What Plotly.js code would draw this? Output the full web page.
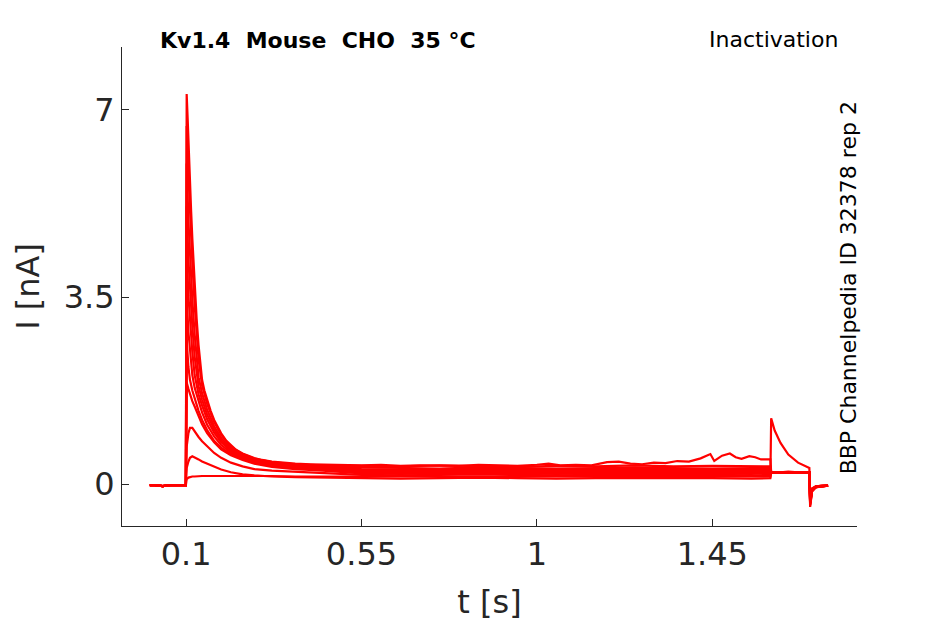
<!DOCTYPE html>
<html>
<head>
<meta charset="utf-8">
<script src="https://cdn.plot.ly/plotly-3.0.1.min.js"></script>
<style>
  body { margin: 0; background: #fff; }
  #plot { width: 945px; height: 624px; }
</style>
</head>
<body>
<div id="plot"></div>
<script>
// shared time base (s) for most sweeps
let t = [0.007, 0.02, 0.04, 0.06, 0.08, 0.0995, 0.1005, 0.1015, 0.106, 0.110, 0.116, 0.122, 0.132, 0.141, 0.154, 0.172, 0.19, 0.215, 0.245, 0.275, 0.32, 0.38, 0.45,
  0.55, 0.65, 0.75, 0.85, 0.95, 1.05, 1.15, 1.25, 1.35, 1.45, 1.55, 1.599,
  1.601, 1.61, 1.625, 1.645, 1.67, 1.699, 1.701, 1.706, 1.715, 1.73, 1.747];

// currents (nA), one array per sweep
let iA = [-0.02, -0.02, -0.04, -0.02, -0.02, -0.02, 3.3, 6.7, 5.8, 5.1, 4.15, 3.35, 2.33, 1.85, 1.5, 1.16, 0.92, 0.70, 0.56, 0.475, 0.41, 0.37, 0.35,
  0.34, 0.33, 0.35, 0.33, 0.32, 0.34, 0.33, 0.35, 0.33, 0.34, 0.33, 0.33,
  0.23, 0.22, 0.22, 0.23, 0.22, 0.22, -0.30, -0.10, -0.05, -0.04, -0.03];
let iB = [-0.02, -0.02, -0.04, -0.02, -0.02, -0.02, 3.0, 6.0, 4.93, 4.3, 3.45, 2.8, 2.0, 1.7, 1.39, 1.08, 0.86, 0.67, 0.54, 0.46, 0.40, 0.36, 0.33,
  0.31, 0.30, 0.29, 0.31, 0.30, 0.29, 0.30, 0.31, 0.30, 0.29, 0.30, 0.30,
  0.22, 0.21, 0.22, 0.22, 0.21, 0.22, -0.36, -0.12, -0.06, -0.04, -0.03];
let iC = [-0.02, -0.02, -0.04, -0.02, -0.02, -0.02, 2.6, 5.2, 4.2, 3.65, 2.95, 2.38, 1.83, 1.58, 1.3, 1.02, 0.82, 0.64, 0.52, 0.44, 0.38, 0.34, 0.31,
  0.28, 0.27, 0.28, 0.29, 0.28, 0.27, 0.28, 0.28, 0.29, 0.28, 0.27, 0.28,
  0.21, 0.22, 0.21, 0.21, 0.22, 0.21, -0.25, -0.09, -0.05, -0.03, -0.03];
let iD = [-0.02, -0.02, -0.04, -0.02, -0.02, -0.02, 2.2, 4.4, 3.52, 3.05, 2.47, 2.04, 1.68, 1.47, 1.21, 0.96, 0.78, 0.62, 0.50, 0.43, 0.37, 0.33, 0.30,
  0.26, 0.25, 0.26, 0.27, 0.26, 0.25, 0.26, 0.27, 0.26, 0.25, 0.26, 0.26,
  0.22, 0.22, 0.21, 0.22, 0.22, 0.21, -0.40, -0.13, -0.06, -0.04, -0.03];
let iE = [-0.02, -0.02, -0.04, -0.02, -0.02, -0.02, 1.8, 3.5, 2.85, 2.47, 2.04, 1.8, 1.54, 1.34, 1.11, 0.89, 0.73, 0.59, 0.49, 0.42, 0.36, 0.32, 0.29,
  0.24, 0.23, 0.24, 0.25, 0.24, 0.23, 0.24, 0.24, 0.25, 0.24, 0.23, 0.24,
  0.21, 0.21, 0.22, 0.21, 0.21, 0.22, -0.28, -0.10, -0.05, -0.04, -0.03];
let iF = [-0.02, -0.02, -0.04, -0.02, -0.02, -0.02, 1.4, 2.7, 2.19, 1.95, 1.75, 1.59, 1.37, 1.2, 1.01, 0.81, 0.68, 0.56, 0.47, 0.40, 0.34, 0.30, 0.27,
  0.22, 0.21, 0.22, 0.23, 0.22, 0.21, 0.22, 0.22, 0.23, 0.22, 0.21, 0.22,
  0.22, 0.21, 0.22, 0.22, 0.21, 0.22, -0.33, -0.11, -0.05, -0.04, -0.03];
let iG = [-0.02, -0.02, -0.04, -0.02, -0.02, -0.02, 1.0, 1.9, 1.78, 1.68, 1.55, 1.45, 1.27, 1.12, 0.95, 0.78, 0.65, 0.54, 0.45, 0.38, 0.32, 0.28, 0.25,
  0.20, 0.19, 0.20, 0.21, 0.20, 0.19, 0.20, 0.20, 0.21, 0.20, 0.19, 0.20,
  0.21, 0.22, 0.21, 0.21, 0.22, 0.21, -0.22, -0.08, -0.05, -0.03, -0.03];
let iH = [-0.02, -0.02, -0.04, -0.02, -0.02, -0.02, 0.4, 0.7, 0.95, 1.05, 1.05, 0.98, 0.88, 0.80, 0.70, 0.58, 0.49, 0.40, 0.33, 0.28, 0.25, 0.23, 0.21,
  0.17, 0.16, 0.17, 0.18, 0.17, 0.16, 0.17, 0.17, 0.18, 0.17, 0.16, 0.17,
  0.22, 0.22, 0.22, 0.21, 0.22, 0.22, -0.35, -0.12, -0.06, -0.04, -0.03];
let iI = [-0.02, -0.02, -0.04, -0.02, -0.02, -0.02, 0.2, 0.3, 0.42, 0.49, 0.52, 0.50, 0.46, 0.42, 0.38, 0.32, 0.27, 0.22, 0.18, 0.16, 0.14, 0.13, 0.12,
  0.11, 0.10, 0.11, 0.12, 0.11, 0.10, 0.11, 0.11, 0.12, 0.11, 0.10, 0.11,
  0.21, 0.22, 0.21, 0.22, 0.21, 0.21, -0.43, -0.14, -0.07, -0.04, -0.03];
// sweep with no prepulse current, responds at the test step
let iJ = [-0.02, -0.02, -0.04, -0.02, -0.02, -0.02, 0.05, 0.09, 0.12, 0.13, 0.14, 0.14, 0.15, 0.15, 0.15, 0.15, 0.16, 0.16, 0.15, 0.15, 0.15, 0.14, 0.14,
  0.14, 0.13, 0.14, 0.14, 0.13, 0.14, 0.13, 0.14, 0.14, 0.13, 0.14, 0.14,
  1.23, 1.0, 0.77, 0.55, 0.40, 0.30, -0.38, -0.12, -0.06, -0.04, -0.03];

// biggest sweep has its own, finer time base (slow drift late in the prepulse)
let tTop = [0.007, 0.02, 0.04, 0.06, 0.08, 0.0995, 0.1005, 0.1015, 0.104, 0.106, 0.108, 0.110, 0.113, 0.116, 0.119, 0.122, 0.127, 0.132, 0.136, 0.141,
  0.147, 0.154, 0.163, 0.172, 0.18, 0.19, 0.202, 0.215, 0.228, 0.245, 0.26, 0.275, 0.295, 0.32, 0.35, 0.38, 0.42, 0.50,
  0.55, 0.60, 0.65, 0.70, 0.75, 0.80, 0.85, 0.90, 0.95, 1.00, 1.03, 1.06, 1.10, 1.14, 1.18, 1.21, 1.24, 1.27, 1.30, 1.33,
  1.36, 1.39, 1.42, 1.445, 1.455, 1.475, 1.495, 1.51, 1.525, 1.545, 1.56, 1.575, 1.599,
  1.601, 1.61, 1.625, 1.645, 1.67, 1.699, 1.701, 1.706, 1.715, 1.73, 1.747];
let iTop = [-0.02, -0.02, -0.04, -0.02, -0.02, -0.02, 3.6, 7.3, 6.85, 6.4, 6.0, 5.6, 5.1, 4.6, 4.15, 3.7, 3.1, 2.6, 2.25, 1.95,
  1.75, 1.57, 1.37, 1.2, 1.08, 0.95, 0.82, 0.72, 0.64, 0.57, 0.52, 0.485, 0.45, 0.42, 0.40, 0.38, 0.37, 0.36,
  0.35, 0.36, 0.34, 0.35, 0.35, 0.34, 0.36, 0.35, 0.34, 0.36, 0.38, 0.35, 0.36, 0.35, 0.41, 0.42, 0.38, 0.37, 0.40, 0.39,
  0.43, 0.42, 0.48, 0.56, 0.43, 0.53, 0.57, 0.50, 0.47, 0.52, 0.50, 0.46, 0.46,
  0.22, 0.22, 0.21, 0.22, 0.22, 0.22, -0.32, -0.11, -0.05, -0.04, -0.03];

let sweeps = [iA, iB, iC, iD, iE, iF, iG, iH, iI, iJ];

let xTicks = [0.1, 0.55, 1, 1.45];
let xTickText = ['0.1', '0.55', '1', '1.45'];
let yTicks = [0, 3.5, 7];
let yTickText = ['0', '3.5', '7'];

let traceColor = 'rgb(255,0,0)';
let axisColor = '#262626';
let font = 'DejaVu Sans, sans-serif';

let traces = [];
traces.push({ x: tTop, y: iTop, type: 'scatter', mode: 'lines', line: { color: traceColor, width: 2.2 }, hoverinfo: 'skip' });
sweeps.forEach(function (s) {
  traces.push({ x: t, y: s, type: 'scatter', mode: 'lines', line: { color: traceColor, width: 2.2 }, hoverinfo: 'skip' });
});

let layout = {
  width: 945,
  height: 624,
  showlegend: false,
  paper_bgcolor: '#fff',
  plot_bgcolor: '#fff',
  margin: { l: 122, r: 88, t: 47, b: 98, pad: 0 },
  font: { family: font, color: axisColor },
  xaxis: {
    range: [-0.0644, 1.8212],
    tickvals: xTicks,
    ticktext: xTickText,
    ticks: 'inside',
    ticklen: 7,
    tickcolor: axisColor,
    tickfont: { size: 32, color: axisColor, family: font },
    showline: true,
    linecolor: axisColor,
    linewidth: 1,
    showgrid: false,
    zeroline: false,
    title: { text: 't [s]', font: { size: 32, color: axisColor, family: font }, standoff: 18 }
  },
  yaxis: {
    range: [-0.786, 8.179],
    tickvals: yTicks,
    ticktext: yTickText,
    ticks: 'inside',
    ticklen: 7,
    tickcolor: axisColor,
    tickfont: { size: 32, color: axisColor, family: font },
    showline: true,
    linecolor: axisColor,
    linewidth: 1,
    showgrid: false,
    zeroline: false,
    title: { text: 'I [nA]', font: { size: 32, color: axisColor, family: font }, standoff: 14 }
  },
  annotations: [
    {
      text: '<b>Kv1.4  Mouse  CHO  35 °C</b>', xref: 'paper', yref: 'paper',
      x: 0.266, y: 1.0146, xanchor: 'center', yanchor: 'middle', showarrow: false,
      font: { size: 22, color: '#000', family: font }
    },
    {
      text: 'Inactivation', xref: 'paper', yref: 'paper',
      x: 0.886, y: 1.0167, xanchor: 'center', yanchor: 'middle', showarrow: false,
      font: { size: 22, color: '#000', family: font }
    },
    {
      text: 'BBP Channelpedia ID 32378 rep 2', xref: 'paper', yref: 'paper',
      x: 0.989, y: 0.498, xanchor: 'center', yanchor: 'middle', showarrow: false,
      textangle: -90,
      font: { size: 22, color: '#000', family: font }
    }
  ]
};

Plotly.newPlot('plot', traces, layout, { staticPlot: true, displayModeBar: false });
</script>
</body>
</html>
